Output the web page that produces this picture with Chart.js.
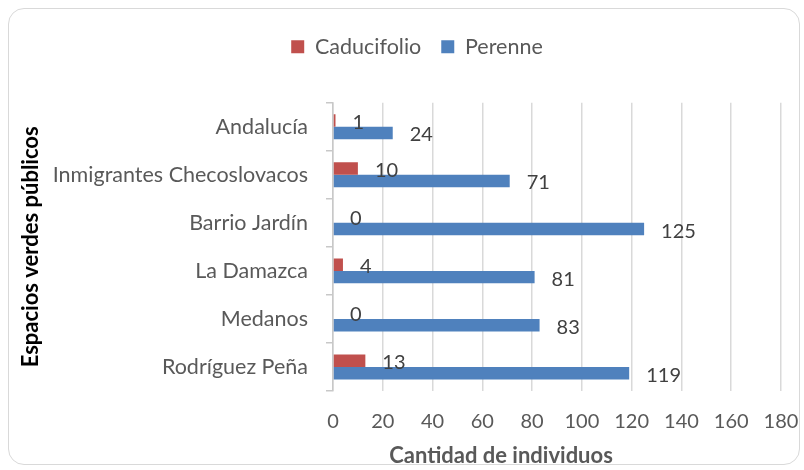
<!DOCTYPE html>
<html lang="es">
<head>
    <meta charset="UTF-8">
    <script src="https://cdn.jsdelivr.net/npm/chart.js"></script>
    <title>Espacios verdes</title>
    <style>
        html, body { margin: 0; padding: 0; background: #fff; }
        .frame {
            position: absolute; left: 8px; top: 8px; width: 792px; height: 457px;
            border: 1px solid #d9d9d9; border-radius: 16px; box-sizing: border-box;
        }
        .wrap { position: absolute; left: 0; top: 0; width: 804px; height: 470px; }
    </style>
</head>
<body>
    <div class="frame"></div>
    <div class="wrap"><canvas id="chart" width="804" height="470"></canvas></div>
<script>
    const categories = ["Andalucía", "Inmigrantes Checoslovacos", "Barrio Jardín", "La Damazca", "Medanos", "Rodríguez Peña"];
    const caducifolio = [1, 10, 0, 4, 0, 13];
    const perenne = [24, 71, 125, 81, 83, 119];
    const xTicks = [0, 20, 40, 60, 80, 100, 120, 140, 160, 180];

    const FONT = "Lato";
    const grey = "#595959";

    // value labels next to each bar
    const barLabels = {
        id: "barLabels",
        afterDatasetsDraw(chart) {
            const ctx = chart.ctx;
            ctx.save();
            ctx.font = "20px " + FONT;
            ctx.fillStyle = "#404040";
            ctx.textAlign = "left";
            ctx.textBaseline = "middle";
            chart.data.datasets.forEach((ds, i) => {
                chart.getDatasetMeta(i).data.forEach((bar, j) => {
                    ctx.fillText(ds.data[j], bar.x + 17, bar.y + 2);
                });
            });
            ctx.restore();
        }
    };

    // x axis title, centred the way the original has it
    const xTitle = {
        id: "xTitle",
        afterDraw(chart) {
            const ctx = chart.ctx;
            ctx.save();
            ctx.font = "bold 22px " + FONT;
            ctx.fillStyle = grey;
            ctx.textAlign = "center";
            ctx.textBaseline = "middle";
            ctx.fillText("Cantidad de individuos", 501, 456);
            ctx.restore();
        }
    };

    new Chart(document.getElementById("chart"), {
        type: "bar",
        data: {
            labels: categories,
            datasets: [
                { label: "Caducifolio", data: caducifolio, backgroundColor: "#C0504D" },
                { label: "Perenne", data: perenne, backgroundColor: "#4F81BD" }
            ]
        },
        options: {
            indexAxis: "y",
            responsive: false,
            animation: false,
            devicePixelRatio: 1,
            categoryPercentage: 0.52,
            barPercentage: 1,
            layout: { padding: { left: 30, top: 16, right: 0, bottom: 0 } },
            plugins: {
                tooltip: { enabled: false },
                legend: {
                    position: "top",
                    labels: {
                        boxWidth: 13, boxHeight: 13, padding: 20,
                        color: grey, font: { family: FONT, size: 21.5 }
                    }
                },
                // empty title used only as a gap between legend and plot
                title: {
                    display: true, text: "", weight: 500,
                    padding: { top: 34, bottom: 0 }, font: { size: 1 }
                }
            },
            scales: {
                x: {
                    min: 0, max: 180,
                    afterBuildTicks: s => { s.ticks = xTicks.map(v => ({ value: v })); },
                    afterFit: s => { s.height = 79; s.paddingRight = 23; },
                    grid: { color: "#d9d9d9", lineWidth: 1.5, drawTicks: false },
                    border: { display: false },
                    ticks: { padding: 19, color: grey, font: { family: FONT, size: 20 } }
                },
                y: {
                    afterFit: s => { s.width = 303; },
                    grid: { offset: true, drawOnChartArea: false, tickLength: 7, color: "#c8c8c8", lineWidth: 1.5 },
                    border: { color: "#c8c8c8", width: 1.5 },
                    ticks: { padding: 18, color: grey, font: { family: FONT, size: 21.5 } },
                    title: {
                        display: true, text: "Espacios verdes públicos", color: "#000",
                        padding: { top: -12, bottom: 0 },
                        font: { family: FONT, size: 22, weight: "bold" }
                    }
                }
            }
        },
        plugins: [barLabels, xTitle]
    });
</script>
</body>
</html>
